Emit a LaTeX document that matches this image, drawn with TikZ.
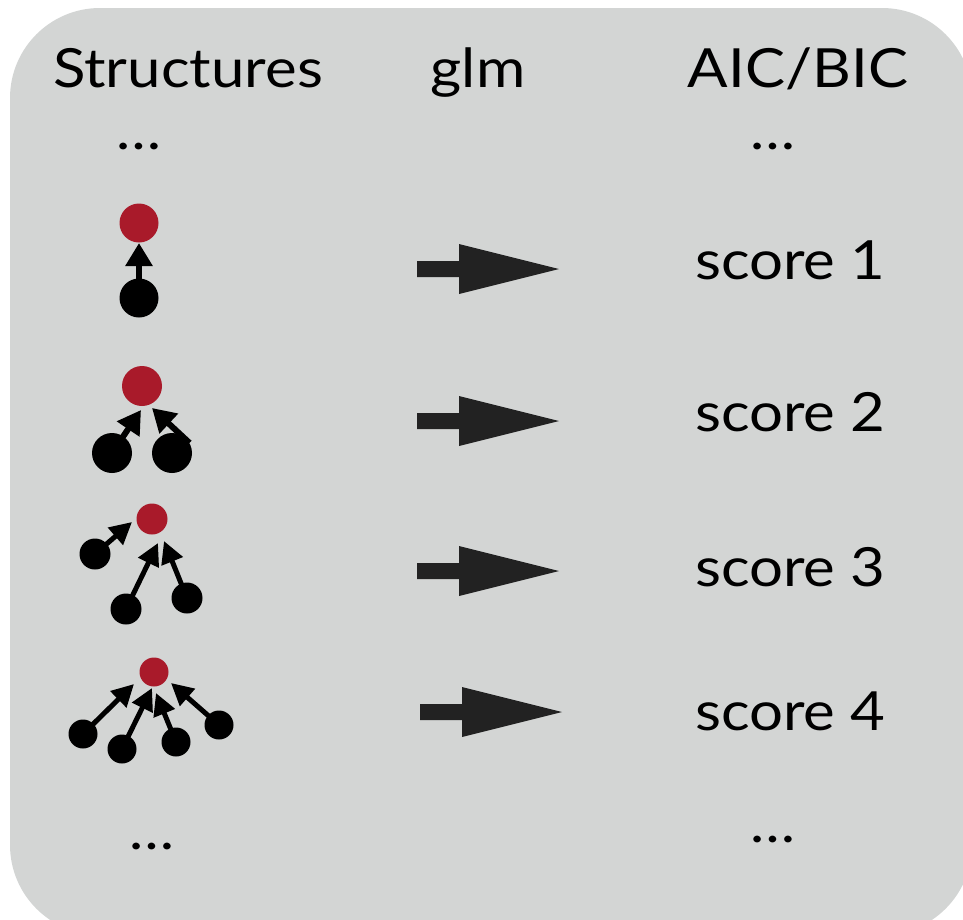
\documentclass[tikz,border=0pt]{standalone}
\usepackage{fontspec}
\setmainfont{Lato}[FakeStretch=1.11]
\usetikzlibrary{arrows.meta}

\definecolor{panel}{HTML}{D3D5D4}
\definecolor{parentred}{HTML}{A91A2A}
\definecolor{fatgrey}{HTML}{222222}

\tikzset{
  lbl/.style={font=\fontsize{54}{60}\selectfont, inner sep=0pt, anchor=base},
  scorelbl/.style={lbl, anchor=base west},
  parentnode/.style={circle, fill=parentred, inner sep=0pt, minimum size=#1},
  childnode/.style={circle, fill=black, inner sep=0pt, minimum size=#1},
  bigedge/.style={-{Triangle[length=23pt,width=26pt]}, line width=6pt},
  smalledge/.style={-{Triangle[length=22pt,width=22pt]}, line width=5pt},
  fatarrow/.pic={
    \fill[fatgrey] (0,-8) -- (42,-8) -- (42,-25) -- (142,0) -- (42,25)
      -- (42,8) -- (0,8) -- cycle;
  }
}

\begin{document}
\begin{tikzpicture}[x=1pt, y=-1pt]
\useasboundingbox (0,0) rectangle (963,919);
\fill[panel, rounded corners=90pt] (10,8) rectangle (972,935);

% column headings
\node[lbl] (hstruct) at (188,87) {Structures};
\node[lbl] (hglm) at (478,87) {glm};
\node[lbl] (hscore) at (798,87) {AIC/BIC};

\node[lbl] (dotsl1) at (139,149) {…};
\node[lbl] (dotsr1) at (773,149) {…};
\node[lbl] (dotsl2) at (152,849) {…};
\node[lbl] (dotsr2) at (773,842) {…};

% structure 1: one parent
\node[parentnode=39pt] (r1) at (139,223) {};
\node[childnode=39pt] (b1) at (139,298) {};
\coordinate (t1) at (139,243);
\draw[bigedge] (b1.center) -- (t1);

% structure 2: two parents
\node[parentnode=40pt] (r2) at (142,386) {};
\node[childnode=40pt] (b2a) at (112,453) {};
\node[childnode=40pt] (b2b) at (172,453) {};
\coordinate (t2a) at (141,410);
\coordinate (t2b) at (152,408);
\draw[bigedge] (b2a.center) -- (t2a);
\draw[bigedge] (b2b.30) -- (t2b);

% structure 3: three parents
\node[parentnode=31pt] (r3) at (152,519) {};
\node[childnode=31pt] (b3a) at (95,554) {};
\node[childnode=31pt] (b3b) at (126,609) {};
\node[childnode=31pt] (b3c) at (187,598) {};
\coordinate (t3a) at (132,522);
\coordinate (t3b) at (158,543);
\coordinate (t3c) at (164,541);
\draw[smalledge] (b3a.center) -- (t3a);
\draw[smalledge] (b3b.center) -- (t3b);
\draw[smalledge] (b3c.center) -- (t3c);

% structure 4: four parents
\node[parentnode=29pt] (r4) at (154,672) {};
\node[childnode=29pt] (b4a) at (83,734) {};
\node[childnode=29pt] (b4b) at (122,749) {};
\node[childnode=29pt] (b4c) at (176,742) {};
\node[childnode=29pt] (b4d) at (219,725) {};
\coordinate (t4a) at (134,684);
\coordinate (t4b) at (152,688);
\coordinate (t4c) at (156,693);
\coordinate (t4d) at (171,683);
\draw[smalledge] (b4a.center) -- (t4a);
\draw[smalledge] (b4b.center) -- (t4b);
\draw[smalledge] (b4c.center) -- (t4c);
\draw[smalledge] (b4d.center) -- (t4d);

% model fitting arrows
\pic at (417,269) {fatarrow};
\pic at (417,421) {fatarrow};
\pic at (417,571) {fatarrow};
\pic at (420,712) {fatarrow};

% scores
\node[scorelbl] (s1) at (695,279) {score 1};
\node[scorelbl] (s2) at (695,431) {score 2};
\node[scorelbl] (s3) at (695,586) {score 3};
\node[scorelbl] (s4) at (695,730) {score 4};
\end{tikzpicture}
\end{document}
